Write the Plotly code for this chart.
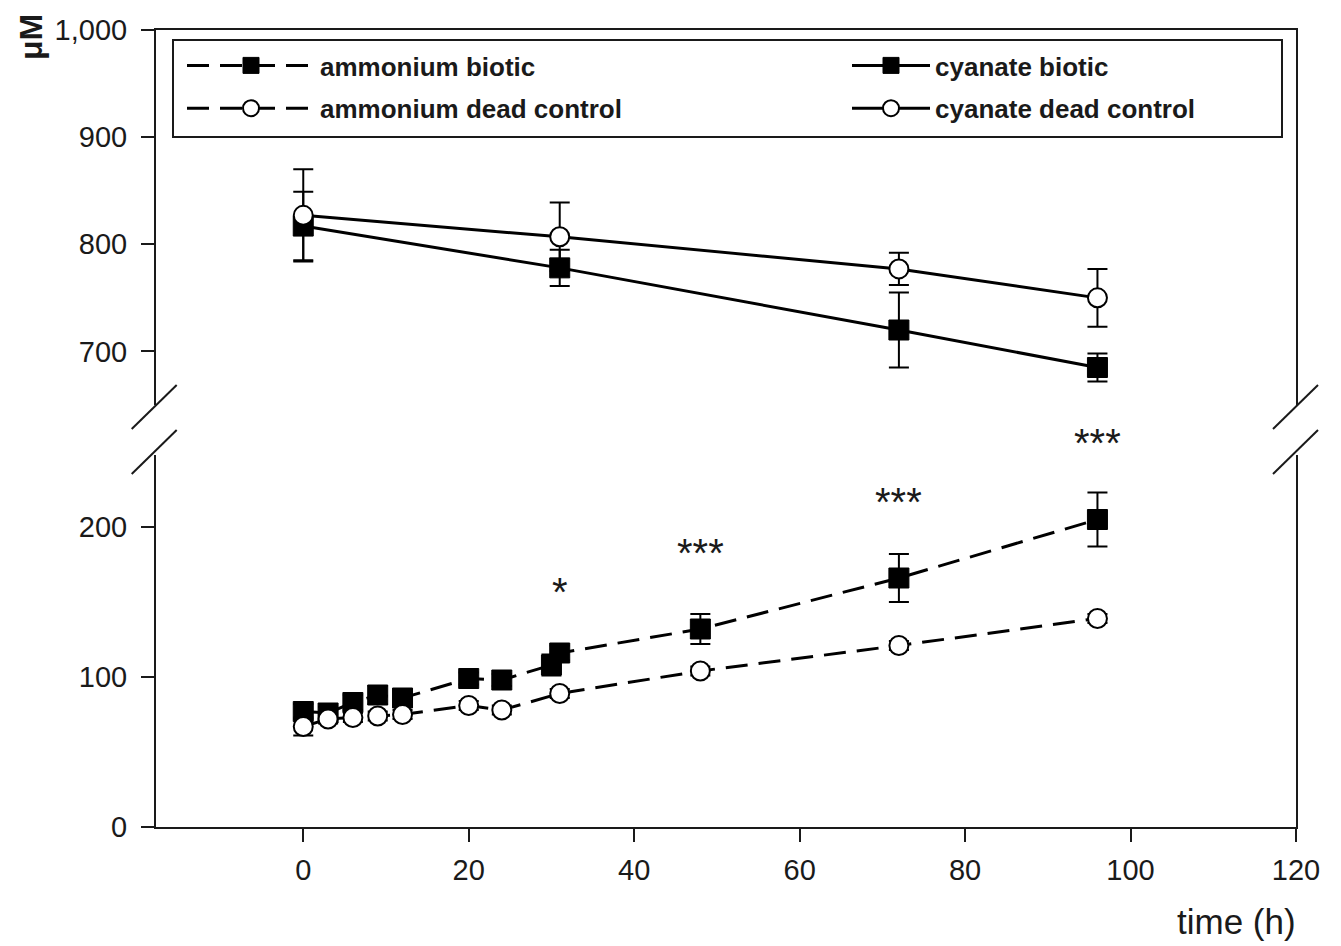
import plotly.graph_objects as go

# ---------------- data ----------------
amm_bio_t = [0, 3, 6, 9, 12, 20, 24, 30, 31, 48, 72, 96]
amm_bio = [77, 76, 83, 88, 86, 99, 98, 108, 116, 132, 166, 205]
amm_bio_err = [5, 4, 5, 6, 5, 4, 4, 7, 5, 10, 16, 18]

amm_dead_t = [0, 3, 6, 9, 12, 20, 24, 31, 48, 72, 96]
amm_dead = [67, 72, 73, 74, 75, 81, 78, 89, 104, 121, 139]
amm_dead_err = [6, 3, 3, 3, 3, 3, 3, 3, 3, 3, 3]

cya_t = [0, 31, 72, 96]
cya_bio = [817, 778, 720, 685]
cya_bio_err = [32, 17, 35, 13]
cya_dead = [827, 807, 777, 750]
cya_dead_err = [43, 32, 15, 27]

star_t = [31, 48, 72, 96]
star_y = [160, 186, 220, 259]
star_txt = ["*", "***", "***", "***"]

x_ticks = [0, 20, 40, 60, 80, 100, 120]
top_ticks = [700, 800, 900, 1000]
top_ticktext = ["700", "800", "900", "1,000"]
bot_ticks = [0, 100, 200]

# ---------------- layout geometry ----------------
W, H = 1341, 946
L, R, T, B = 156, 1296, 30, 827
PW, PH = R - L, B - T


def px(x):
    return (x - L) / PW


def py(y):
    return (B - y) / PH


FONT = "Liberation Sans, Arial, sans-serif"
INK = "#1a1a1a"

fig = go.Figure()

sq = dict(symbol="square", size=20, color="black", line=dict(color="black", width=1))
circ = dict(symbol="circle", size=19, color="white", line=dict(color="black", width=2))
dash = "22px,11px"

fig.add_trace(go.Scatter(
    x=amm_bio_t, y=amm_bio, name="ammonium biotic", mode="lines+markers",
    line=dict(color="black", width=3, dash=dash), marker=sq,
    error_y=dict(type="data", array=amm_bio_err, color="black", thickness=2, width=10),
    xaxis="x", yaxis="y", legend="legend", legendgroup="a1"))
fig.add_trace(go.Scatter(
    x=amm_dead_t, y=amm_dead, name="ammonium dead control", mode="lines+markers",
    line=dict(color="black", width=3, dash=dash), marker=circ,
    error_y=dict(type="data", array=amm_dead_err, color="black", thickness=2, width=10),
    xaxis="x", yaxis="y", legend="legend", legendgroup="a2"))
fig.add_trace(go.Scatter(
    x=cya_t, y=cya_bio, name="cyanate biotic", mode="lines+markers",
    line=dict(color="black", width=3), marker=sq,
    error_y=dict(type="data", array=cya_bio_err, color="black", thickness=2, width=10),
    xaxis="x2", yaxis="y2", legend="legend2", legendgroup="c1"))
fig.add_trace(go.Scatter(
    x=cya_t, y=cya_dead, name="cyanate dead control", mode="lines+markers",
    line=dict(color="black", width=3), marker=circ,
    error_y=dict(type="data", array=cya_dead_err, color="black", thickness=2, width=10),
    xaxis="x2", yaxis="y2", legend="legend2", legendgroup="c2"))

axis_common = dict(showgrid=False, zeroline=False, showline=True, linecolor=INK,
                   linewidth=2, tickcolor=INK, tickwidth=2,
                   tickfont=dict(family=FONT, size=29, color=INK))

bot_top = py(455)
top_bot = py(405)
star_dom = py(400)
BOT_MAX = 248
star_max = BOT_MAX * star_dom / bot_top

legend_font = dict(family=FONT, size=26, color=INK, weight="bold")

fig.update_layout(
    width=W, height=H,
    margin=dict(l=L, r=W - R, t=T, b=H - B),
    paper_bgcolor="white", plot_bgcolor="rgba(0,0,0,0)",
    showlegend=True,
    xaxis=dict(range=[-17.8, 120], tickvals=x_ticks, ticks="outside", ticklen=13,
               anchor="y", domain=[0, 1], ticklabelstandoff=3, **axis_common),
    xaxis2=dict(range=[-17.8, 120], matches="x", anchor="y2", side="top",
                showticklabels=False, ticks="", domain=[0, 1], **axis_common),
    yaxis=dict(range=[0, BOT_MAX], domain=[0, bot_top], tickvals=bot_ticks,
               ticks="outside", ticklen=13, mirror=True, anchor="x",
               ticklabelstandoff=8, **axis_common),
    yaxis2=dict(range=[650, 1000], domain=[top_bot, 1], tickvals=top_ticks,
                ticktext=top_ticktext, ticks="outside", ticklen=13, mirror=True,
                anchor="x2", ticklabelstandoff=8, **axis_common),
    # invisible axis with the same scale as the lower panel, used for the
    # significance stars (the top one sits above the axis break)
    yaxis3=dict(range=[0, star_max], domain=[0, star_dom], anchor="x",
                showline=False, showgrid=False, zeroline=False,
                showticklabels=False, ticks=""),
    legend=dict(x=px(182), y=py(42), xanchor="left", yanchor="top",
                bgcolor="rgba(0,0,0,0)", borderwidth=0, itemwidth=128,
                tracegroupgap=6, font=legend_font),
    legend2=dict(x=px(847), y=py(42), xanchor="left", yanchor="top",
                 bgcolor="rgba(0,0,0,0)", borderwidth=0, itemwidth=78,
                 tracegroupgap=6, font=legend_font),
)

shapes = [
    dict(type="rect", xref="paper", yref="paper", x0=px(173), x1=px(1282),
         y0=py(137), y1=py(40), line=dict(color=INK, width=2)),
]
for (xa, xb) in [(131.7, 176.7), (1273, 1318)]:
    for (ya, yb) in [(429, 385), (474, 430)]:
        shapes.append(dict(type="line", xref="paper", yref="paper",
                           x0=px(xa), x1=px(xb), y0=py(ya), y1=py(yb),
                           line=dict(color=INK, width=2)))
fig.update_layout(shapes=shapes)

for t, v, s in zip(star_t, star_y, star_txt):
    fig.add_annotation(x=t, y=v, xref="x", yref="y3", text=s, showarrow=False,
                       xanchor="center", yanchor="middle", yshift=-5,
                       font=dict(family=FONT, size=40, color=INK))

fig.add_annotation(x=px(1236), y=py(922), xref="paper", yref="paper",
                   xanchor="center", yanchor="middle",
                   text="time (h)", showarrow=False,
                   font=dict(family=FONT, size=35, color=INK))
fig.add_annotation(x=px(31), y=py(37), xref="paper", yref="paper",
                   xanchor="center", yanchor="middle",
                   text="<b>μM</b>", showarrow=False, textangle=-90,
                   font=dict(family=FONT, size=32, color=INK))

fig.write_html("out.html")
